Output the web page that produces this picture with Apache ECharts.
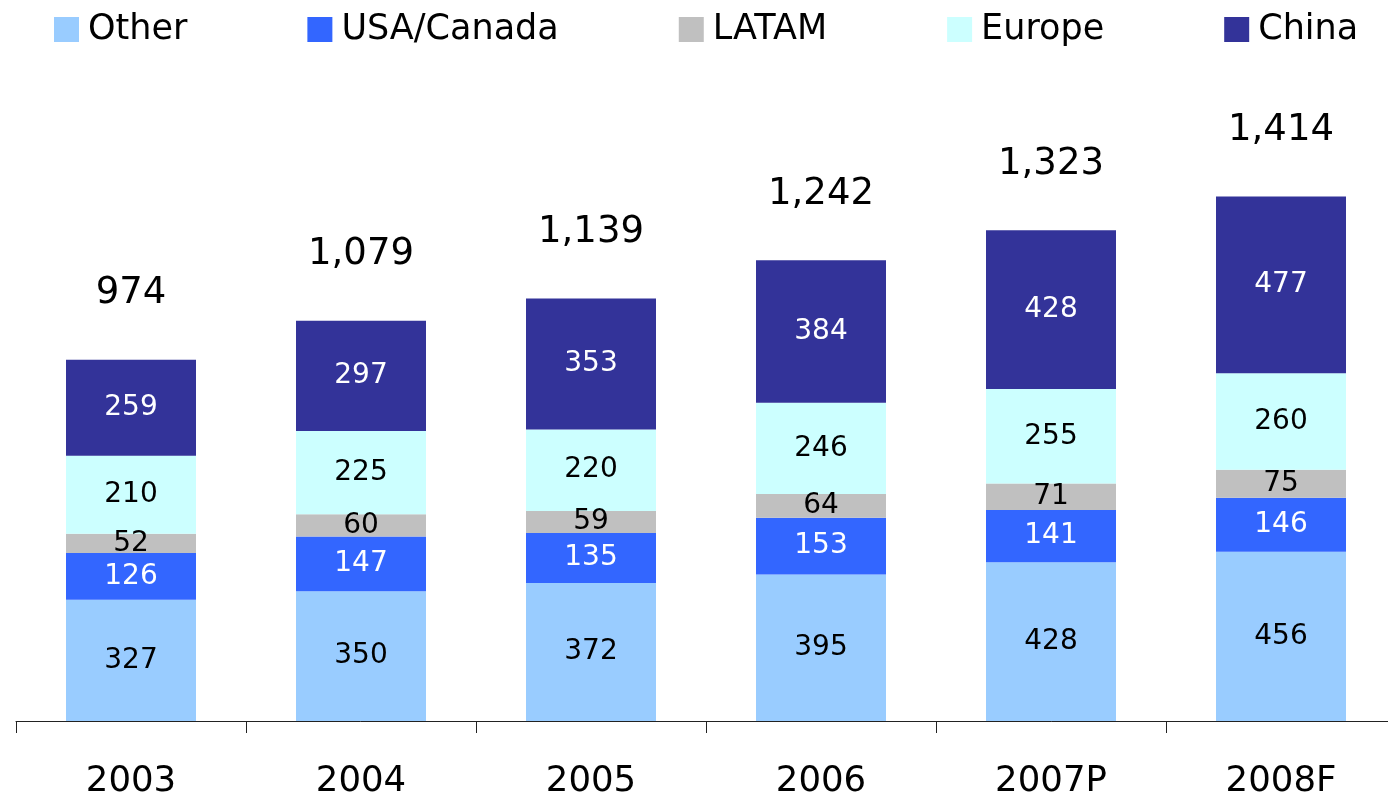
<!DOCTYPE html>
<html>
<head>
<meta charset="utf-8">
<script src="https://cdn.jsdelivr.net/npm/echarts@6/dist/echarts.min.js"></script>
<style>
html,body{margin:0;padding:0;background:#fff;}
#wrap{width:1388px;height:800px;overflow:hidden;position:relative;}
#chart{position:absolute;left:0;top:0;width:1396px;height:800px;}
</style>
</head>
<body>
<div id="wrap"><div id="chart"></div></div>
<script>
const categories = ['2003', '2004', '2005', '2006', '2007P', '2008F'];
const other = [327, 350, 372, 395, 428, 456];
const usaCanada = [126, 147, 135, 153, 141, 146];
const latam = [52, 60, 59, 64, 71, 75];
const europe = [210, 225, 220, 246, 255, 260];
const china = [259, 297, 353, 384, 428, 477];
const totals = [974, 1079, 1139, 1242, 1323, 1414];

const FONT = '"DejaVu Sans", Verdana, sans-serif';

function barSeries(name, data, color, labelColor) {
  return {
    name: name,
    type: 'bar',
    stack: 'total',
    data: data,
    barWidth: 130,
    itemStyle: { color: color },
    label: {
      show: true,
      position: 'inside',
      color: labelColor,
      fontFamily: FONT,
      fontSize: 28
    },
    emphasis: { disabled: true }
  };
}

const chart = echarts.init(document.getElementById('chart'), null, { renderer: 'canvas' });
chart.setOption({
  animation: false,
  backgroundColor: '#ffffff',
  legend: {
    data: ['Other', 'USA/Canada', 'LATAM', 'Europe', 'China'],
    left: 54,
    top: 12,
    padding: 0,
    itemWidth: 25,
    itemHeight: 25,
    itemGap: 120,
    icon: 'rect',
    textStyle: {
      fontFamily: FONT,
      fontSize: 35,
      color: '#000',
      padding: [0, 0, 0, 4],
      lineHeight: 25
    }
  },
  grid: {
    left: 16,
    right: 0,
    top: 127.4,
    height: 597.6,
    containLabel: false
  },
  xAxis: {
    type: 'category',
    data: categories,
    axisLine: { show: true, lineStyle: { color: '#222', width: 1 } },
    axisTick: { show: true, length: 12, lineStyle: { color: '#222' } },
    axisLabel: {
      color: '#000',
      fontFamily: FONT,
      fontSize: 35.5,
      margin: 43
    }
  },
  yAxis: {
    type: 'value',
    min: 0,
    max: 1600,
    show: false,
    splitLine: { show: false }
  },
  series: [
    barSeries('Other', other, '#99CCFF', '#000'),
    barSeries('USA/Canada', usaCanada, '#3366FF', '#fff'),
    barSeries('LATAM', latam, '#C0C0C0', '#000'),
    barSeries('Europe', europe, '#CCFFFF', '#000'),
    barSeries('China', china, '#333399', '#fff'),
    {
      name: 'Total',
      type: 'scatter',
      data: totals,
      symbol: 'circle',
      symbolSize: 1,
      itemStyle: { color: 'rgba(0,0,0,0)', opacity: 1 },
      silent: true,
      label: {
        show: true,
        position: 'top',
        distance: 47,
        color: '#000',
        opacity: 1,
        fontFamily: FONT,
        fontSize: 37,
        formatter: function (p) { return p.value.toLocaleString('en-US'); }
      }
    }
  ]
});
</script>
</body>
</html>
